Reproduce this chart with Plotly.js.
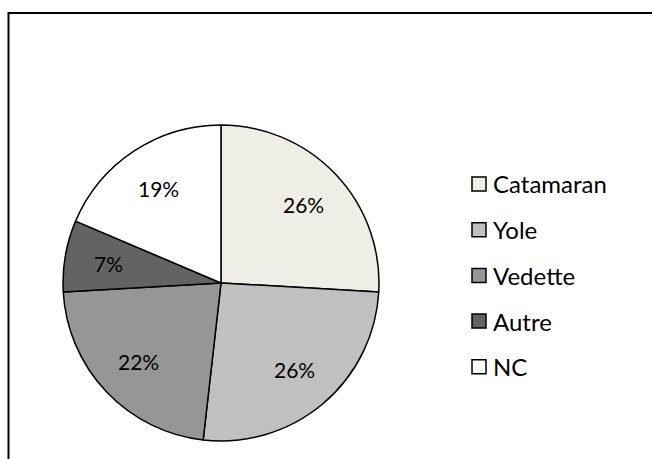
<!DOCTYPE html>
<html>
<head>
<meta charset="utf-8">
<script src="https://cdn.plot.ly/plotly-3.0.1.min.js"></script>
<style>html,body{margin:0;padding:0;background:#fff;}#chart{width:652px;height:459px;}</style>
</head>
<body>
<div id="chart"></div>
<script>
const categories = ["Catamaran", "Yole", "Vedette", "Autre", "NC"];
const shares = [25.9, 25.9, 22.3, 7.3, 18.6];
const sliceColors = ["#EEEEE6", "#C0C0C0", "#969696", "#636363", "#FFFFFF"];

const W = 652, H = 459;
const cx = 221, cy = 283, R = 158;
const FONT = "Lato, 'Open Sans', sans-serif";
const labelRadius = 0.72;

const trace = {
  type: "pie",
  labels: categories,
  values: shares,
  sort: false,
  direction: "clockwise",
  rotation: 0,
  marker: {colors: sliceColors, line: {color: "#000", width: 1.5}},
  textinfo: "none",
  hoverinfo: "label+percent",
  showlegend: false,
  domain: {x: [(cx - R) / W, (cx + R) / W], y: [(H - cy - R) / H, (H - cy + R) / H]}
};

const shapes = [{
  type: "rect", xref: "paper", yref: "paper",
  x0: 8.5 / W, x1: 700 / W, y0: -50 / H, y1: (H - 13) / H,
  line: {color: "#000", width: 2}, fillcolor: "rgba(0,0,0,0)"
}];
const annotations = [];

// percentage labels placed at each slice's mid-angle (derived from the data)
const total = shares.reduce((a, b) => a + b, 0);
let cum = 0;
shares.forEach((v) => {
  const mid = (cum + v / 2) / total * 2 * Math.PI;
  cum += v;
  const px = cx + labelRadius * R * Math.sin(mid);
  const py = cy - labelRadius * R * Math.cos(mid);
  annotations.push({
    xref: "paper", yref: "paper", x: px / W, y: (H - py) / H,
    xanchor: "center", yanchor: "middle", showarrow: false,
    text: Math.round(v / total * 100) + "%",
    font: {family: FONT, size: 21, color: "#000"}
  });
});

// manual legend built from categories & colors
const legX = 472, legY0 = 184, legStep = 45.7, sq = 14;
categories.forEach((c, i) => {
  const yc = legY0 + i * legStep;
  shapes.push({
    type: "rect", xref: "paper", yref: "paper",
    x0: legX / W, x1: (legX + sq) / W,
    y0: (H - yc - sq / 2) / H, y1: (H - yc + sq / 2) / H,
    fillcolor: sliceColors[i], line: {color: "#000", width: 1.5}
  });
  annotations.push({
    xref: "paper", yref: "paper", x: (legX + sq + 5) / W, y: (H - yc) / H,
    xanchor: "left", yanchor: "middle", showarrow: false,
    text: c, font: {family: FONT, size: 24, color: "#000"}
  });
});

const layout = {
  width: W, height: H,
  margin: {l: 0, r: 0, t: 0, b: 0},
  paper_bgcolor: "#fff",
  showlegend: false,
  shapes: shapes,
  annotations: annotations
};

Plotly.newPlot("chart", [trace], layout, {displayModeBar: false, staticPlot: true});
</script>
</body>
</html>
